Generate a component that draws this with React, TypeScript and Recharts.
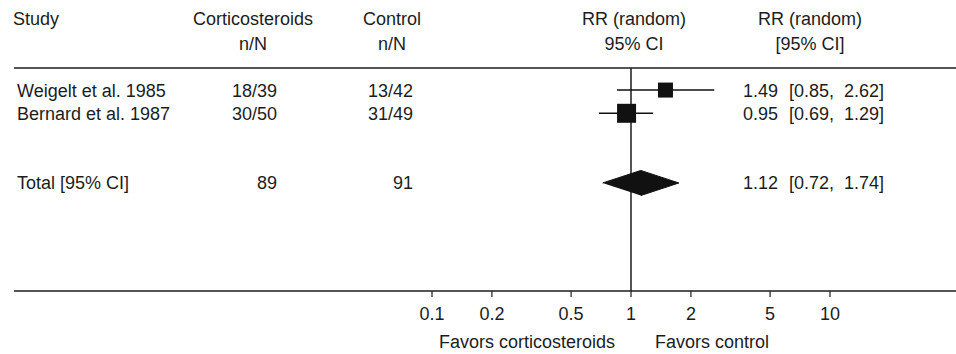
import React from "react";
import {
    ComposedChart,
    Scatter,
    XAxis,
    YAxis,
    ZAxis,
    ErrorBar,
    ReferenceLine,
    Customized
} from "recharts";

// study rows
const studies = ["Weigelt et al. 1985", "Bernard et al. 1987"];
const steroidEvents = ["18/39", "30/50"];
const controlEvents = ["13/42", "31/49"];
const rr = [1.49, 0.95];
const ciLow = [0.85, 0.69];
const ciHigh = [2.62, 1.29];
const weights = [38.4, 61.6];
const studyRows = [1, 2];

// pooled estimate
const totalLabel = "Total [95% CI]";
const totalSteroid = "89";
const totalControl = "91";
const totalRr = 1.12;
const totalLow = 0.72;
const totalHigh = 1.74;
const totalRow = 5;

const xTicks = [0.1, 0.2, 0.5, 1, 2, 5, 10];
const headerTop = ["Study", "Corticosteroids", "Control", "RR (random)", "RR (random)"];
const headerBottom = ["", "n/N", "n/N", "95% CI", "[95% CI]"];
const favorsLeft = "Favors corticosteroids";
const favorsRight = "Favors control";

const W = 956;
const H = 354;
const FONT = "'Liberation Sans', Arial, Helvetica, sans-serif";
const INK = "#1c1c1c";
const PLOT_LEFT = 14;
const ONE_PX = 631;
const PX_PER_DECADE = 199;
const xDomain = [
    Math.pow(10, (PLOT_LEFT - ONE_PX) / PX_PER_DECADE),
    Math.pow(10, (W - ONE_PX) / PX_PER_DECADE)
];
const yDomain = [0.05, 9.65];
const DIAMOND_HALF = 0.54;

const rowTable = [
    ...studies.map((name, i) => ({
        row: studyRows[i],
        name,
        a: steroidEvents[i],
        b: controlEvents[i],
        est: rr[i],
        lo: ciLow[i],
        hi: ciHigh[i]
    })),
    {
        row: totalRow,
        name: totalLabel,
        a: totalSteroid,
        b: totalControl,
        est: totalRr,
        lo: totalLow,
        hi: totalHigh
    }
];

const studyData = rr.map((v, i) => ({
    x: v,
    y: studyRows[i],
    w: weights[i],
    err: [v - ciLow[i], ciHigh[i] - v]
}));

const diamondData = [
    { x: totalLow, y: totalRow },
    { x: totalRr, y: totalRow - DIAMOND_HALF },
    { x: totalHigh, y: totalRow },
    { x: totalRr, y: totalRow + DIAMOND_HALF }
];

// one y-axis tick = one table row, placed by the y scale
function RowTick(props: any) {
    const { y, payload } = props;
    const r = rowTable.find((d) => d.row === payload.value);
    if (!r) return <g />;
    const dy = 6.5;
    return (
        <g fontFamily={FONT} fontSize={18} fill={INK}>
            <text x={17} y={y} dy={dy}>{r.name}</text>
            <text x={277} y={y} dy={dy} textAnchor="end">{r.a}</text>
            <text x={413} y={y} dy={dy} textAnchor="end">{r.b}</text>
            <text x={743} y={y} dy={dy}>{r.est.toFixed(2)}</text>
            <text x={789} y={y} dy={dy}>[{r.lo.toFixed(2)},</text>
            <text x={844} y={y} dy={dy}>{r.hi.toFixed(2)}]</text>
        </g>
    );
}

function ChartText() {
    const cols = [
        { x: 13, anchor: "start" },
        { x: 253, anchor: "middle" },
        { x: 392, anchor: "middle" },
        { x: 634, anchor: "middle" },
        { x: 810, anchor: "middle" }
    ];
    return (
        <g fontFamily={FONT} fontSize={18} fill={INK}>
            {cols.map((c, i) => (
                <g key={i}>
                    <text x={c.x} y={24.5} textAnchor={c.anchor as any}>{headerTop[i]}</text>
                    <text x={c.x} y={49.5} textAnchor={c.anchor as any}>{headerBottom[i]}</text>
                </g>
            ))}
            <text x={615} y={348} textAnchor="end">{favorsLeft}</text>
            <text x={655} y={348}>{favorsRight}</text>
        </g>
    );
}

export default function App() {
    return (
        <div style={{ position: "absolute", left: 0, top: 0, background: "#fff" }}>
            <ComposedChart
                width={W}
                height={H}
                margin={{ top: 68, right: 0, bottom: 0, left: PLOT_LEFT - 1 }}
            >
                <XAxis
                    dataKey="x"
                    type="number"
                    scale="log"
                    domain={xDomain}
                    allowDataOverflow
                    ticks={xTicks}
                    interval={0}
                    height={63}
                    tickSize={6}
                    tickMargin={10}
                    axisLine={{ stroke: INK, strokeWidth: 1.5 }}
                    tickLine={{ stroke: INK, strokeWidth: 1.2 }}
                    tick={{ fill: INK, fontSize: 18, fontFamily: FONT }}
                />
                <YAxis
                    dataKey="y"
                    type="number"
                    domain={yDomain}
                    reversed
                    allowDataOverflow
                    ticks={[...studyRows, totalRow]}
                    interval={0}
                    width={1}
                    axisLine={false}
                    tickLine={false}
                    tick={RowTick}
                />
                <ZAxis dataKey="w" type="number" domain={[0, 100]} range={[0, 586]} />
                <ReferenceLine y={yDomain[0]} stroke={INK} strokeWidth={1.5} ifOverflow="visible" />
                <ReferenceLine x={1} stroke={INK} strokeWidth={1.5} />
                <Scatter
                    data={studyData}
                    fill="#111"
                    shape="square"
                    isAnimationActive={false}
                >
                    <ErrorBar
                        dataKey="err"
                        direction="x"
                        width={0}
                        stroke="#111"
                        strokeWidth={1.5}
                    />
                </Scatter>
                <Scatter
                    data={diamondData}
                    fill="#111"
                    line={{ fill: "#111", stroke: "#111", strokeWidth: 1 }}
                    shape={() => <g />}
                    isAnimationActive={false}
                />
                <Customized component={<ChartText />} />
            </ComposedChart>
        </div>
    );
}
